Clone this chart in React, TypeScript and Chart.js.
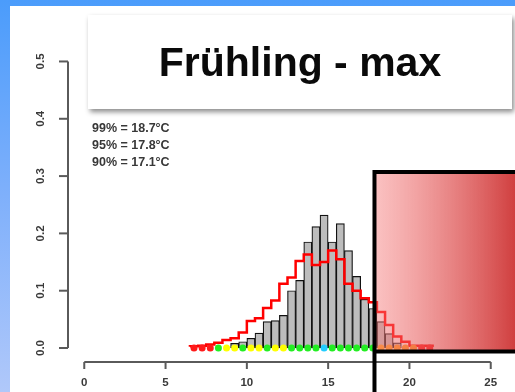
import React, { useEffect, useRef } from "react";
import { Chart, registerables } from "chart.js";

Chart.register(...registerables);

// ---- data ----
const binEdges = [6.5, 7, 7.5, 8, 8.5, 9, 9.5, 10, 10.5, 11, 11.5, 12, 12.5, 13, 13.5, 14, 14.5, 15, 15.5, 16, 16.5, 17, 17.5, 18, 18.5, 19, 19.5, 20, 20.5, 21, 21.5];
const grayDensity = [null, null, null, null, null, 0.008, 0.011, 0.017, 0.026, 0.046, 0.048, 0.057, 0.1, 0.118, 0.185, 0.212, 0.232, 0.185, 0.217, 0.17, 0.125, 0.085, 0.069, 0.046, 0.025, 0.009, null, null, null, null];
const redDensity = [0.002, 0.003, 0.004, 0.006, 0.009, 0.014, 0.017, 0.027, 0.047, 0.052, 0.07, 0.083, 0.112, 0.123, 0.152, 0.163, 0.145, 0.15, 0.17, 0.155, 0.112, 0.1, 0.087, 0.08, 0.063, 0.04, 0.02, 0.011, 0.004, 0.004];
const dotCenters = [6.75, 7.25, 7.75, 8.25, 8.75, 9.25, 9.75, 10.25, 10.75, 11.25, 11.75, 12.25, 12.75, 13.25, 13.75, 14.25, 14.75, 15.25, 15.75, 16.25, 16.75, 17.25, 17.75, 18.25, 18.75, 19.25, 19.75, 20.25, 20.75, 21.25];
const dotClass = ["r", "r", "r", "g", "y", "y", "g", "y", "y", "g", "y", "y", "g", "g", "g", "g", "c", "g", "g", "g", "g", "g", "g", "o", "o", "o", "o", "o", "r", "r"];
const yTicks = [0, 0.1, 0.2, 0.3, 0.4, 0.5];
const yTickLabels = ["0.0", "0.1", "0.2", "0.3", "0.4", "0.5"];
const xTicks = [0, 5, 10, 15, 20, 25];
const xTickLabels = ["0", "5", "10", "15", "20", "25"];
const quantileLabels = ["99% = 18.7°C", "95% = 17.8°C", "90% = 17.1°C"];
const titleText = "Frühling - max";
const highlightFrom = 17.85; // start of the highlighted (hot) region
const highlightTop = 0.307;
const highlightBottom = -0.006;

const dotColors: Record<string, string> = {
  r: "#ff1a1a",
  g: "#22ee22",
  y: "#ffff00",
  c: "#22ccff",
  o: "#ffa020",
};

const FONT = '"Liberation Sans", Arial, sans-serif';

const rStylePlugin = {
  id: "rStyle",
  afterDraw(chart: any) {
    const { ctx, chartArea, scales } = chart;
    const x = scales.x;
    const y = scales.y;
    ctx.save();
    // y axis
    ctx.strokeStyle = "#5a5a5a";
    ctx.lineWidth = 2;
    const ax = chartArea.left;
    ctx.beginPath();
    ctx.moveTo(ax, y.getPixelForValue(yTicks[0]));
    ctx.lineTo(ax, y.getPixelForValue(yTicks[yTicks.length - 1]));
    ctx.stroke();
    ctx.fillStyle = "#3a3a3a";
    ctx.font = `bold 11.5px ${FONT}`;
    ctx.textAlign = "center";
    ctx.textBaseline = "middle";
    yTicks.forEach((v, i) => {
      const py = y.getPixelForValue(v);
      ctx.beginPath();
      ctx.moveTo(ax, py);
      ctx.lineTo(ax - 9, py);
      ctx.stroke();
      ctx.save();
      ctx.translate(41, py);
      ctx.rotate(-Math.PI / 2);
      ctx.fillText(yTickLabels[i], 0, 0);
      ctx.restore();
    });
    // x axis
    const ay = chartArea.bottom;
    ctx.beginPath();
    ctx.moveTo(x.getPixelForValue(xTicks[0]), ay);
    ctx.lineTo(x.getPixelForValue(xTicks[xTicks.length - 1]), ay);
    ctx.stroke();
    xTicks.forEach((v, i) => {
      const px = x.getPixelForValue(v);
      ctx.beginPath();
      ctx.moveTo(px, ay);
      ctx.lineTo(px, ay + 7);
      ctx.stroke();
      ctx.fillText(xTickLabels[i], px, ay + 21);
    });

    // highlighted region overlay
    const left = x.getPixelForValue(highlightFrom);
    const top = y.getPixelForValue(highlightTop);
    const bottom = y.getPixelForValue(highlightBottom);
    const right = chart.width;
    const g = ctx.createLinearGradient(left, 0, right, 0);
    g.addColorStop(0, "rgba(245,120,120,0.45)");
    g.addColorStop(1, "rgba(200,30,30,0.85)");
    ctx.fillStyle = g;
    ctx.fillRect(left, top, right - left, bottom - top);
    ctx.strokeStyle = "#000";
    ctx.lineWidth = 4;
    ctx.beginPath();
    ctx.moveTo(left, chart.height);
    ctx.lineTo(left, top);
    ctx.lineTo(right, top);
    ctx.moveTo(left, bottom);
    ctx.lineTo(right, bottom);
    ctx.stroke();
    ctx.restore();
  },
};

export default function App() {
  const ref = useRef<HTMLCanvasElement | null>(null);

  useEffect(() => {
    if (!ref.current) return;
    const barData = grayDensity.map((v, i) => ({ x: (binEdges[i] + binEdges[i + 1]) / 2, y: v }));
    const redData = binEdges.map((e, i) => ({ x: e, y: redDensity[Math.min(i, redDensity.length - 1)] }));
    const dotData = dotCenters.map((c) => ({ x: c, y: 0 }));
    const chart = new Chart(ref.current, {
      type: "bar",
      data: {
        datasets: [
          {
            type: "scatter",
            data: dotData,
            pointRadius: 3.5,
            pointBorderWidth: 0,
            pointBackgroundColor: dotClass.map((c) => dotColors[c]),
            showLine: false,
            order: 1,
          } as any,
          {
            type: "line",
            data: redData,
            stepped: "after",
            borderColor: "#ff0000",
            borderWidth: 2.5,
            pointRadius: 0,
            fill: false,
            order: 2,
          } as any,
          {
            type: "bar",
            data: barData as any,
            backgroundColor: "#bdbdbd",
            borderColor: "#111",
            borderWidth: 1.2,
            borderSkipped: false,
            barPercentage: 1,
            categoryPercentage: 1,
            order: 3,
          } as any,
        ],
      },
      options: {
        responsive: false,
        animation: false,
        devicePixelRatio: 1,
        layout: { padding: { left: 68, right: 8, top: 50, bottom: 30 } },
        plugins: { legend: { display: false }, tooltip: { enabled: false } },
        scales: {
          x: { type: "linear", min: -1, max: 26, offset: false, display: false },
          y: { type: "linear", min: -0.0244, max: 0.52, display: false },
        },
      },
      plugins: [rStylePlugin],
    });
    return () => chart.destroy();
  }, []);

  return (
    <div
      style={{
        position: "fixed",
        left: 0,
        top: 0,
        width: 515,
        height: 392,
        overflow: "hidden",
        background: "linear-gradient(to bottom, #4b9cfb 0%, #7fb0fb 50%, #b0c8fa 100%)",
      }}
    >
      <div style={{ position: "absolute", left: 10, top: 6, width: 505, height: 386, background: "#fff" }} />
      <canvas
        ref={ref}
        width={515}
        height={392}
        style={{ position: "absolute", left: 0, top: 0, width: 515, height: 392, filter: "blur(0.4px)" }}
      />
      <div
        style={{
          position: "absolute",
          left: 92,
          top: 120,
          fontFamily: FONT,
          fontSize: 12.5,
          fontWeight: "bold",
          lineHeight: "17px",
          color: "#383838",
          whiteSpace: "pre",
          filter: "blur(0.3px)",
        }}
      >
        {quantileLabels.map((t) => (
          <div key={t}>{t}</div>
        ))}
      </div>
      <div
        style={{
          position: "absolute",
          left: 88,
          top: 15,
          width: 424,
          height: 94,
          background: "#fff",
          boxShadow: "2px 3px 5px rgba(0,0,0,0.45)",
          display: "flex",
          alignItems: "center",
          justifyContent: "center",
          fontFamily: FONT,
          fontWeight: "bold",
          fontSize: 41,
          color: "#0a0a0a",
        }}
      >
        {titleText}
      </div>
    </div>
  );
}
